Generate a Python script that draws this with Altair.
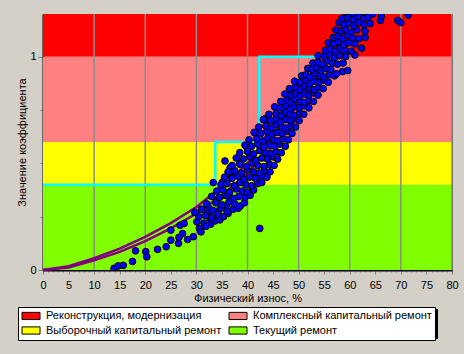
import altair as alt
import pandas as pd

FONT = "Liberation Sans"

# ---- bands ----
band_names = ["Реконструкция, модернизация", "Комплексный капитальный ремонт",
              "Выборочный капитальный ремонт", "Текущий ремонт"]
band_colors = ["#FF0000", "#FF8080", "#FFFF00", "#80FF00"]
band_lo = [1.0, 0.6, 0.4, 0.0]
band_hi = [1.2, 1.0, 0.6, 0.4]

grid_x = [10, 20, 30, 40, 50, 60, 70, 80]

# ---- cyan step (normative) ----
step_x = [0, 33.7, 42.3, 56.0]
step_y = [0.4, 0.6, 1.0, 1.0]

# ---- purple curves ----
curve_x = [0, 5, 10, 15, 20, 25, 30, 35, 40, 45, 50]
curve_up = [0, 0.018, 0.055, 0.10, 0.155, 0.22, 0.295, 0.39, 0.50, 0.63, 0.78]
curve_lo = [0, 0.012, 0.045, 0.085, 0.135, 0.195, 0.265, 0.35, 0.455, 0.58, 0.72]

# ---- scatter points ----
pts_x = [
    13.9, 14.7, 15.7, 17.5, 18.1, 20.1, 20.3, 22.4, 24.1, 25.0, 25.0, 26.5, 26.6, 26.8, 27.6, 27.3,
    28.3, 29.4, 29.7, 30.1, 30.6, 30.9, 32.3, 32.1, 32.7, 33.3, 34.0, 34.3, 35.1, 35.6, 36.6, 35.6,
    35.9, 36.9, 42.4, 39.8, 38.5, 40.5, 41.5, 43.4,
    31.5, 32.8, 33.6, 31.9, 34.6,
    30.5, 31.8, 33.0, 34.2, 35.3, 36.2,
    31.0, 33.2, 34.8, 36.0, 37.2, 38.2,
    32.0, 33.8, 35.0, 36.4, 37.5, 38.6, 39.4,
    33.0, 34.5, 36.0, 37.2, 38.3, 39.5, 40.5,
    34.0, 35.2, 36.5, 37.8, 39.0, 40.0, 41.2,
    34.8, 36.0, 37.4, 38.6, 39.7, 40.8, 42.0, 42.8,
    35.5, 37.0, 38.2, 39.3, 40.4, 41.5, 42.6, 43.8,
    36.2, 37.5, 38.8, 40.0, 41.2, 42.3, 43.3, 44.4,
    37.0, 38.5, 39.8, 41.0, 42.0, 43.2, 44.3, 45.2,
    37.8, 39.2, 40.5, 41.6, 42.8, 43.9, 45.0, 45.9,
    38.5, 40.0, 41.2, 42.4, 43.5, 44.6, 45.6, 46.6,
    39.5, 40.8, 42.0, 43.1, 44.2, 45.3, 46.3, 47.4,
    40.3, 41.8, 43.0, 44.0, 45.1, 46.0, 47.0, 48.0,
    41.3, 42.6, 43.8, 44.8, 45.8, 46.8, 47.8, 48.7,
    42.2, 43.6, 44.6, 45.6, 46.7, 47.6, 48.5, 49.4,
    43.1, 44.5, 45.6, 46.5, 47.5, 48.4, 49.3, 50.1,
    44.2, 45.6, 46.6, 47.4, 48.3, 49.2, 50.2, 51.0,
    45.3, 46.5, 47.5, 48.4, 49.2, 50.1, 51.1, 52.0,
    46.5, 47.7, 48.5, 49.3, 50.2, 51.1, 52.0, 52.9,
    47.3, 48.5, 49.4, 50.3, 51.2, 52.0, 52.9, 53.8,
    48.2, 49.3, 50.3, 51.2, 52.1, 53.0, 53.9, 54.8,
    49.2, 50.3, 51.3, 52.2, 53.1, 54.0, 54.9, 55.8,
    50.6, 51.4, 52.3, 53.2, 54.1, 55.0, 56.0, 57.0,
    51.8, 52.6, 53.5, 54.4, 55.3, 56.3, 57.4, 58.6, 59.6,
    52.8, 53.8, 54.7, 55.6, 56.6, 57.6, 58.7,
    53.8, 55.0, 56.0, 57.0, 58.0, 59.2, 61.0,
    55.2, 56.2, 57.1, 58.0, 59.0, 60.3, 62.3,
    55.8, 56.8, 57.8, 58.8, 59.8, 61.0,
    56.8, 57.6, 58.6, 59.5, 60.5, 61.8, 63.0,
    57.3, 58.3, 59.2, 60.2, 61.4, 63.0,
    57.9, 58.8, 59.8, 60.8, 61.8, 62.8, 64.0,
    58.5, 59.5, 60.7, 61.7, 62.7, 63.6, 66.0, 69.4, 70.0,
    59.3, 60.5, 61.5, 62.5, 66.2, 71.4, 64.5,
]
pts_y = [
    0.008, 0.019, 0.022, 0.040, 0.090, 0.086, 0.062, 0.097, 0.109, 0.140, 0.187, 0.125, 0.153, 0.210, 0.218, 0.171,
    0.143, 0.156, 0.270, 0.226, 0.195, 0.179, 0.296, 0.265, 0.241, 0.410, 0.327, 0.277, 0.412, 0.511, 0.480, 0.350,
    0.304, 0.436, 0.195, 0.577, 0.500, 0.537, 0.642, 0.709,
    0.220, 0.215, 0.230, 0.205, 0.235,
    0.250, 0.255, 0.245, 0.260, 0.250, 0.265,
    0.285, 0.280, 0.290, 0.275, 0.285, 0.290,
    0.310, 0.315, 0.305, 0.320, 0.310, 0.300, 0.315,
    0.345, 0.340, 0.350, 0.335, 0.345, 0.340, 0.350,
    0.370, 0.375, 0.365, 0.380, 0.370, 0.365, 0.375,
    0.400, 0.405, 0.395, 0.410, 0.400, 0.395, 0.405, 0.410,
    0.435, 0.430, 0.440, 0.425, 0.435, 0.430, 0.440, 0.435,
    0.460, 0.465, 0.455, 0.470, 0.460, 0.455, 0.465, 0.460,
    0.490, 0.495, 0.485, 0.500, 0.490, 0.485, 0.495, 0.490,
    0.525, 0.520, 0.530, 0.515, 0.525, 0.520, 0.530, 0.520,
    0.550, 0.555, 0.545, 0.560, 0.550, 0.545, 0.555, 0.550,
    0.585, 0.580, 0.590, 0.575, 0.585, 0.580, 0.590, 0.580,
    0.610, 0.615, 0.605, 0.620, 0.610, 0.605, 0.615, 0.610,
    0.645, 0.640, 0.650, 0.635, 0.645, 0.640, 0.650, 0.640,
    0.670, 0.675, 0.665, 0.680, 0.670, 0.665, 0.675, 0.670,
    0.705, 0.700, 0.710, 0.695, 0.705, 0.700, 0.710, 0.700,
    0.730, 0.735, 0.725, 0.740, 0.730, 0.725, 0.735, 0.730,
    0.765, 0.760, 0.770, 0.755, 0.765, 0.760, 0.770, 0.760,
    0.790, 0.795, 0.785, 0.800, 0.790, 0.785, 0.795, 0.790,
    0.825, 0.820, 0.830, 0.815, 0.825, 0.820, 0.830, 0.820,
    0.850, 0.855, 0.845, 0.860, 0.850, 0.845, 0.855, 0.850,
    0.885, 0.880, 0.890, 0.875, 0.885, 0.880, 0.890, 0.880,
    0.910, 0.915, 0.905, 0.920, 0.910, 0.905, 0.915, 0.910,
    0.945, 0.940, 0.950, 0.935, 0.945, 0.940, 0.920, 0.930, 0.935,
    0.970, 0.975, 0.965, 0.980, 0.970, 0.965, 0.970,
    1.005, 1.000, 1.010, 0.995, 1.005, 1.000, 1.008,
    1.030, 1.035, 1.025, 1.040, 1.030, 1.025, 1.040,
    1.065, 1.060, 1.070, 1.055, 1.065, 1.060,
    1.090, 1.095, 1.085, 1.100, 1.090, 1.085, 1.090,
    1.125, 1.120, 1.130, 1.115, 1.125, 1.120,
    1.160, 1.150, 1.155, 1.145, 1.160, 1.150, 1.155,
    1.180, 1.185, 1.175, 1.190, 1.180, 1.185, 1.170, 1.170, 1.160,
    1.210, 1.205, 1.215, 1.210, 1.190, 1.195, 1.200,
]

bands_df = pd.DataFrame({"name": band_names, "y": band_lo, "y2": band_hi})
grid_df = pd.DataFrame({"x": grid_x})
step_df = pd.DataFrame({"x": step_x, "y": step_y})
curve_df = pd.DataFrame({
    "x": curve_x + curve_x,
    "y": curve_up + curve_lo,
    "series": ["up"] * len(curve_x) + ["lo"] * len(curve_x),
})
pts_df = pd.DataFrame({"x": pts_x, "y": pts_y})

xscale = alt.Scale(domain=[0, 80], nice=False, zero=False)
yscale = alt.Scale(domain=[0, 1.2], nice=False, zero=False)

xaxis = alt.Axis(
    values=list(range(0, 81)),
    labelExpr="datum.value % 5 === 0 ? datum.label : ''",
    tickSize={"condition": {"test": "datum.value % 5 === 0", "value": 4}, "value": 2},
    tickColor="#808080", domainColor="black", domainWidth=2, grid=False,
    labelFont=FONT, labelFontSize=11, labelColor="black", labelPadding=5,
    labelFlush=False, labelOverlap=False, labelBound=False,
    title="Физический износ, %", titleFont=FONT, titleFontSize=11, titleFontWeight="normal",
    titleColor="black", titleY=28, titleBaseline="middle",
)
yaxis = alt.Axis(
    values=[0, 0.25, 0.5, 0.75, 1.0],
    labelExpr="datum.value === 0 ? '0' : (datum.value === 1 ? '1' : '')",
    tickSize={"condition": {"test": "datum.value === 0 || datum.value === 1", "value": 5}, "value": 3},
    tickColor="#808080", domainColor="black", domainWidth=2, grid=False,
    labelFont=FONT, labelFontSize=11, labelColor="black", labelPadding=2,
    labelFlush=False, labelOverlap=False, labelBound=False,
    title="Значение коэффициента", titleFont=FONT, titleFontSize=11, titleFontWeight="normal",
    titleColor="black", titleX=-21, titleY=128, titleBaseline="middle", titleAngle=270,
)

bands = alt.Chart(bands_df).mark_rect(opacity=1).encode(
    y=alt.Y("y:Q", scale=yscale, axis=yaxis),
    y2="y2:Q",
    color=alt.Color(
        "name:N",
        scale=alt.Scale(domain=band_names, range=band_colors),
        title=None,
        legend=alt.Legend(
            orient="none", legendX=-25, legendY=293, columns=2, direction="horizontal",
            symbolType="M-1,-0.8H3V0.8H-1Z", symbolSize=81,
            symbolStrokeColor="black", symbolStrokeWidth=1, symbolOpacity=1,
            labelFont=FONT, labelFontSize=11, labelColor="black", labelOffset=14,
            labelLimit=400, padding=3, rowPadding=2, columnPadding=5,
            fillColor="white", strokeColor="black",
        ),
    ),
)

grid = alt.Chart(grid_df).mark_rule(color="#8C8C8C", strokeWidth=1.5).encode(
    x=alt.X("x:Q", scale=xscale, axis=xaxis),
)

step = alt.Chart(step_df).mark_line(color="#00FFFF", strokeWidth=2.5, interpolate="step-after").encode(
    x=alt.X("x:Q", scale=xscale, axis=xaxis),
    y=alt.Y("y:Q", scale=yscale, axis=yaxis),
)

curves = alt.Chart(curve_df).mark_line(color="#800080", strokeWidth=2.5).encode(
    x=alt.X("x:Q", scale=xscale, axis=xaxis),
    y=alt.Y("y:Q", scale=yscale, axis=yaxis),
    detail="series:N",
)

points = alt.Chart(pts_df).mark_circle(
    size=45, color="#0000FF", opacity=1, stroke="black", strokeWidth=1, clip=True
).encode(
    x=alt.X("x:Q", scale=xscale, axis=xaxis),
    y=alt.Y("y:Q", scale=yscale, axis=yaxis),
)

shadow = alt.Chart(pd.DataFrame({"k": [0]})).mark_rect(color="black").encode(
    x=alt.value(-23), x2=alt.value(395), y=alt.value(295), y2=alt.value(325),
)

chart = alt.layer(bands, grid, step, curves, points, shadow).properties(
    width=409, height=256,
    autosize=alt.AutoSizeParams(type="none"),
    padding={"left": 43, "top": 14, "right": 12, "bottom": 84},
    background="#D4D0C8",
).configure_view(stroke="#303030", strokeWidth=1)

chart.save("out.html", embed_options={"renderer": "svg", "actions": False})
